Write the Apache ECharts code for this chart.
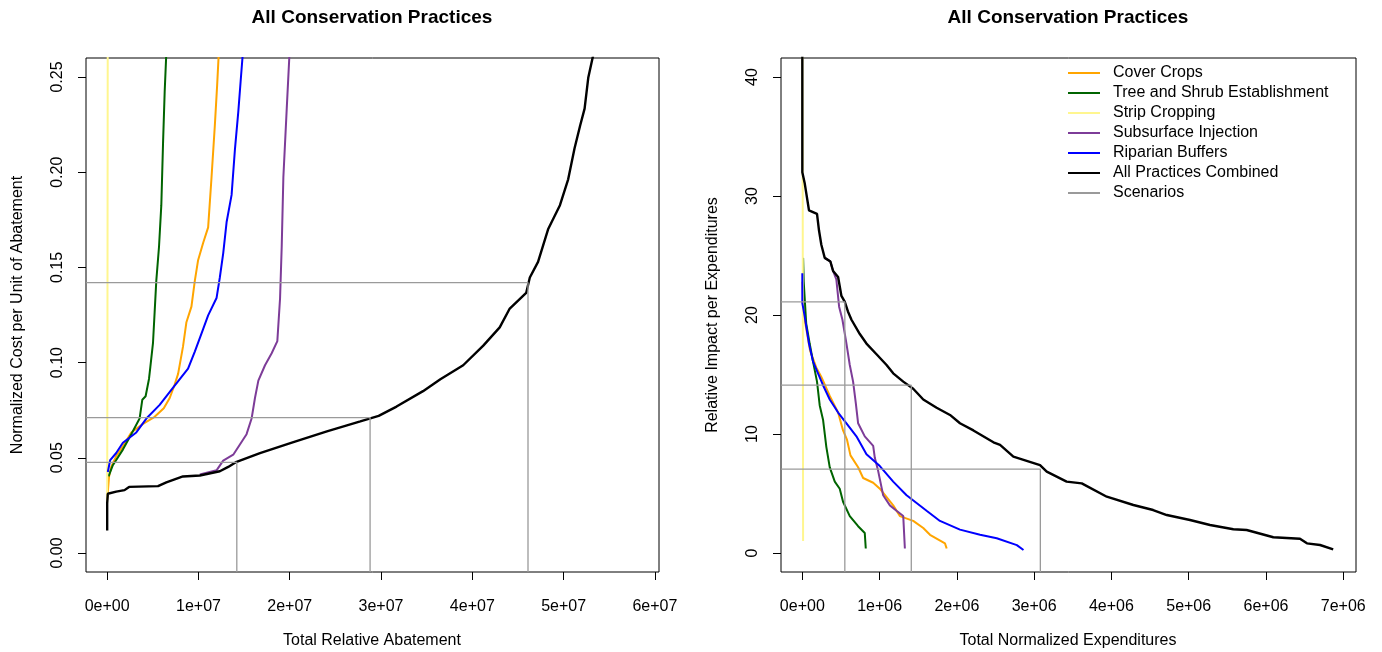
<!DOCTYPE html>
<html>
<head>
<meta charset="utf-8">
<title>All Conservation Practices</title>
<script src="https://cdn.jsdelivr.net/npm/echarts@6/dist/echarts.min.js"></script>
<style>
  html, body {margin: 0; padding: 0; background: #fff;}
  #chart {width: 1382px; height: 652px;}
</style>
</head>
<body>
<div id="chart"></div>
<script>
// ---- data ----
// left panel: [total relative abatement, normalized cost per unit]
const coverCropsCost = [[0,0.028],[2e5,0.040],[4.4e5,0.0452],[1.0e6,0.051],[1.72e6,0.056],[2.64e6,0.0633],[3.92e6,0.0678],[5.2e6,0.0715],[6.2e6,0.076],[6.85e6,0.0814],[7.4e6,0.0886],[7.77e6,0.0941],[8.31e6,0.1085],[8.68e6,0.1212],[9.23e6,0.1294],[9.6e6,0.1429],[9.96e6,0.1538],[1.051e7,0.1628],[1.106e7,0.171],[1.143e7,0.1972],[1.179e7,0.2243],[1.205e7,0.246],[1.225e7,0.265]];
const treeShrubCost = [[1.5e5,0.0402],[6.2e5,0.0461],[1.72e6,0.0543],[2.64e6,0.0624],[3.55e6,0.0706],[3.85e6,0.0805],[4.21e6,0.0823],[4.58e6,0.0914],[4.73e6,0.0977],[5.02e6,0.1104],[5.2e6,0.1266],[5.38e6,0.1429],[5.68e6,0.161],[5.93e6,0.1827],[6.12e6,0.2153],[6.3e6,0.2424],[6.5e6,0.265]];
const stripCropCost = [[0,0.026],[3e4,0.12],[6e4,0.265]];
const subsurfaceCost = [[1.015e7,0.0412],[1.198e7,0.0434],[1.271e7,0.0485],[1.381e7,0.0516],[1.454e7,0.057],[1.527e7,0.0624],[1.582e7,0.0706],[1.619e7,0.0814],[1.656e7,0.0905],[1.729e7,0.0986],[1.802e7,0.1049],[1.864e7,0.1113],[1.894e7,0.1339],[1.912e7,0.161],[1.93e7,0.1972],[1.967e7,0.2334],[2.0e7,0.265]];
const riparianCost = [[7e4,0.0425],[3.3e5,0.0488],[9.9e5,0.0525],[1.72e6,0.0579],[3.19e6,0.0633],[4.29e6,0.0706],[5.75e6,0.0778],[7.22e6,0.0868],[8.86e6,0.0968],[9.6e6,0.1058],[1.051e7,0.1176],[1.106e7,0.1248],[1.198e7,0.1339],[1.234e7,0.1447],[1.271e7,0.1574],[1.308e7,0.1737],[1.363e7,0.1881],[1.399e7,0.2117],[1.436e7,0.2316],[1.462e7,0.2478],[1.49e7,0.265]];
const allCost = [[0,0.0118],[0,0.0262],[7e4,0.0311],[9.9e5,0.0322],[1.9e6,0.033],[2.4e6,0.0347],[5.57e6,0.0351],[6.48e6,0.0371],[8.3e6,0.0402],[1.015e7,0.0407],[1.234e7,0.0429],[1.326e7,0.0452],[1.418e7,0.0479],[1.674e7,0.0525],[2.04e7,0.0582],[2.407e7,0.0639],[2.773e7,0.0691],[2.974e7,0.072],[3.17e7,0.0769],[3.46e7,0.085],[3.65e7,0.0913],[3.9e7,0.0986],[4.12e7,0.1089],[4.3e7,0.1185],[4.41e7,0.1284],[4.59e7,0.1366],[4.63e7,0.1447],[4.72e7,0.1529],[4.83e7,0.17],[4.96e7,0.1827],[5.05e7,0.1963],[5.12e7,0.2126],[5.18e7,0.2243],[5.23e7,0.2334],[5.27e7,0.2496],[5.34e7,0.265]];
const costScenarioX = [1.42e7, 2.88e7, 4.61e7];
const costScenarioY = [0.0476, 0.0711, 0.142];

// right panel: [total normalized expenditures, relative impact per expenditure]
const coverCropsImpact = [[0,22.8],[2e4,20.0],[1.0e5,17.0],[1.8e5,15.6],[2.46e5,14.8],[3.55e5,13.2],[4.63e5,11.8],[5.27e5,10.3],[5.79e5,9.5],[6.23e5,8.2],[7.22e5,7.2],[7.87e5,6.3],[9.17e5,5.9],[1.003e6,5.4],[1.176e6,4.0],[1.262e6,3.1],[1.435e6,2.7],[1.565e6,2.1],[1.652e6,1.53],[1.846e6,0.81],[1.868e6,0.38]];
const treeShrubImpact = [[1e4,24.8],[1.8e4,22.8],[5e4,19.3],[9.5e4,17.6],[1.38e5,16.1],[1.9e5,14.4],[2.25e5,12.4],[2.68e5,11.2],[3.11e5,8.9],[3.55e5,7.2],[4.2e5,6.0],[4.84e5,5.4],[5.27e5,4.3],[6.14e5,3.1],[7.22e5,2.25],[8.08e5,1.68],[8.21e5,0.38]];
const stripCropImpact = [[0,43],[5e3,30],[1e4,1.0]];
const subsurfaceImpact = [[2.9e5,24.8],[3.63e5,24.5],[3.98e5,23.7],[4.4e5,23.0],[4.76e5,20.7],[5.19e5,19.6],[5.71e5,17.6],[6.14e5,15.8],[6.57e5,14.4],[6.92e5,12.6],[7.22e5,10.9],[8.08e5,9.8],[9.17e5,9.0],[9.38e5,8.0],[9.81e5,6.9],[1.046e6,4.85],[1.133e6,4.0],[1.219e6,3.55],[1.306e6,3.1],[1.327e6,0.38]];
const riparianImpact = [[0,23.5],[0,21.0],[3e4,19.9],[8.6e4,17.6],[1.38e5,16.1],[2.03e5,15.1],[2.68e5,14.1],[3.55e5,12.9],[4.63e5,11.8],[5.71e5,10.9],[7.0e5,9.8],[8.3e5,8.3],[1.003e6,7.3],[1.176e6,6.0],[1.349e6,4.85],[1.608e6,3.55],[1.781e6,2.69],[2.04e6,1.96],[2.3e6,1.53],[2.516e6,1.24],[2.776e6,0.66],[2.862e6,0.25]];
const allImpact = [[0,43],[0,32.0],[3e4,31.1],[8.6e4,28.8],[1.9e5,28.5],[2.16e5,27.1],[2.46e5,25.9],[2.9e5,24.8],[3.63e5,24.5],[3.98e5,23.7],[4.63e5,23.2],[5.06e5,21.6],[5.5e5,21.1],[5.9e5,20.3],[6.36e5,19.6],[7.44e5,18.4],[8.3e5,17.6],[9.6e5,16.7],[1.09e6,15.8],[1.176e6,15.1],[1.306e6,14.4],[1.435e6,13.8],[1.565e6,12.9],[1.738e6,12.2],[1.911e6,11.6],[2.04e6,10.9],[2.214e6,10.3],[2.473e6,9.3],[2.559e6,9.08],[2.731e6,8.09],[3.076e6,7.39],[3.163e6,6.83],[3.42e6,6.0],[3.616e6,5.85],[3.94e6,4.73],[4.284e6,4.03],[4.54e6,3.61],[4.716e6,3.19],[5.017e6,2.77],[5.276e6,2.35],[5.578e6,1.99],[5.75e6,1.93],[6.095e6,1.32],[6.44e6,1.2],[6.53e6,0.81],[6.7e6,0.67],[6.87e6,0.31]];
const impactScenarioX = [5.5e5, 1.41e6, 3.08e6];
const impactScenarioY = [21.1, 14.1, 7.05];

const leftXTicks = [0, 1e7, 2e7, 3e7, 4e7, 5e7, 6e7];
const leftYTicks = [0, 0.05, 0.10, 0.15, 0.20, 0.25];
const rightXTicks = [0, 1e6, 2e6, 3e6, 4e6, 5e6, 6e6, 7e6];
const rightYTicks = [0, 10, 20, 30, 40];

const practiceNames = ['Cover Crops', 'Tree and Shrub Establishment', 'Strip Cropping',
  'Subsurface Injection', 'Riparian Buffers', 'All Practices Combined'];
const practiceColors = ['#FFA500', '#006400', '#FFF68F', '#7D3C98', '#0000FF', '#000000'];
const scenarioColor = '#9a9a9a';

// ---- chart ----
const FONT = '"Liberation Sans", Arial, Helvetica, sans-serif';
const leftRange = {xMin: -2.32e6, xMax: 6.045e7, yMin: -0.01, yMax: 0.26};
const rightRange = {xMin: -2.76e5, xMax: 7.165e6, yMin: -1.6, yMax: 41.6};

const sci = v => {
  if (v === 0) return '0e+00';
  const [m, e] = v.toExponential(0).split('e');
  return m + 'e' + e[0] + e.slice(1).padStart(2, '0');
};

const xAxisCfg = (range, ticks, gridIndex) => ({
  type: 'value', gridIndex, min: range.xMin, max: range.xMax,
  axisLine: {show: false, onZero: false},
  splitLine: {show: false},
  axisTick: {show: true, length: 8, customValues: ticks, lineStyle: {color: '#000'}},
  axisLabel: {customValues: ticks, formatter: sci, margin: 27,
    fontSize: 16, color: '#000', fontFamily: FONT}
});
const yAxisCfg = (range, ticks, gridIndex, fmt) => ({
  type: 'value', gridIndex, min: range.yMin, max: range.yMax,
  axisLine: {show: false, onZero: false},
  splitLine: {show: false},
  axisTick: {show: true, length: 8, customValues: ticks, lineStyle: {color: '#000'}},
  axisLabel: {customValues: ticks, formatter: fmt, rotate: 90, margin: 20,
    fontSize: 16, color: '#000', fontFamily: FONT}
});

const curves = (datasets, idx) => datasets.map((d, i) => ({
  name: practiceNames[i], type: 'line', xAxisIndex: idx, yAxisIndex: idx,
  data: d, showSymbol: false, symbol: 'none', clip: true, silent: true,
  lineStyle: {color: practiceColors[i], width: i === 5 ? 2.4 : 2},
  itemStyle: {color: practiceColors[i]}
}));

const scenarios = (xs, ys, range, idx) => xs.map((x, i) => ({
  name: 'Scenarios', type: 'line', xAxisIndex: idx, yAxisIndex: idx,
  data: [[range.xMin, ys[i]], [x, ys[i]], [x, range.yMin]],
  showSymbol: false, symbol: 'none', silent: true,
  lineStyle: {color: scenarioColor, width: 1.3},
  itemStyle: {color: scenarioColor}
}));

const chart = echarts.init(document.getElementById('chart'));
chart.setOption({
  animation: false,
  backgroundColor: '#fff',
  textStyle: {fontFamily: FONT},
  grid: [
    {left: 86, top: 58, width: 573, height: 514, show: true, borderColor: '#000', borderWidth: 1},
    {left: 781, top: 58, width: 575, height: 514, show: true, borderColor: '#000', borderWidth: 1}
  ],
  xAxis: [xAxisCfg(leftRange, leftXTicks, 0), xAxisCfg(rightRange, rightXTicks, 1)],
  yAxis: [
    yAxisCfg(leftRange, leftYTicks, 0, v => v.toFixed(2)),
    yAxisCfg(rightRange, rightYTicks, 1, v => String(v))
  ],
  legend: {
    orient: 'vertical', left: 1068, top: 65, padding: 0,
    itemWidth: 32, itemHeight: 14, itemGap: 4, selectedMode: false,
    icon: 'path://M0,6 L32,6 L32,8 L0,8 Z',
    data: practiceNames.concat(['Scenarios']),
    textStyle: {fontSize: 16, color: '#000', fontFamily: FONT, padding: [0, 0, 0, 8]}
  },
  graphic: [
    {type: 'text', x: 372, y: 18, style: {text: 'All Conservation Practices', font: 'bold 19px ' + FONT,
      fill: '#000', textAlign: 'center', textVerticalAlign: 'middle'}},
    {type: 'text', x: 1068, y: 18, style: {text: 'All Conservation Practices', font: 'bold 19px ' + FONT,
      fill: '#000', textAlign: 'center', textVerticalAlign: 'middle'}},
    {type: 'text', x: 372, y: 641, style: {text: 'Total Relative Abatement', font: '16px ' + FONT,
      fill: '#000', textAlign: 'center', textVerticalAlign: 'middle'}},
    {type: 'text', x: 1068, y: 641, style: {text: 'Total Normalized Expenditures', font: '16px ' + FONT,
      fill: '#000', textAlign: 'center', textVerticalAlign: 'middle'}},
    {type: 'text', x: 18, y: 315, rotation: Math.PI / 2, style: {text: 'Normalized Cost per Unit of Abatement',
      font: '16px ' + FONT, fill: '#000', textAlign: 'center', textVerticalAlign: 'middle'}},
    {type: 'text', x: 713, y: 315, rotation: Math.PI / 2, style: {text: 'Relative Impact per Expenditures',
      font: '16px ' + FONT, fill: '#000', textAlign: 'center', textVerticalAlign: 'middle'}}
  ],
  series: [].concat(
    curves([coverCropsCost, treeShrubCost, stripCropCost, subsurfaceCost, riparianCost, allCost], 0),
    scenarios(costScenarioX, costScenarioY, leftRange, 0),
    curves([coverCropsImpact, treeShrubImpact, stripCropImpact, subsurfaceImpact, riparianImpact, allImpact], 1),
    scenarios(impactScenarioX, impactScenarioY, rightRange, 1)
  )
});
</script>
</body>
</html>
